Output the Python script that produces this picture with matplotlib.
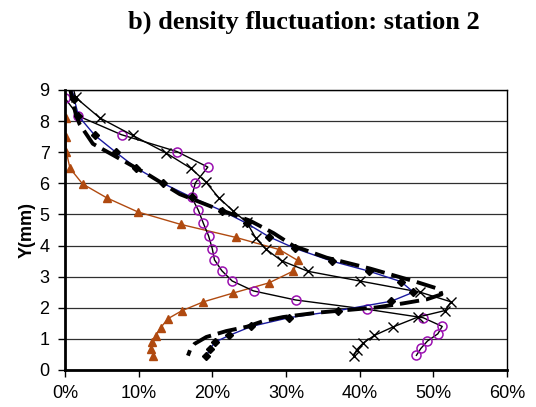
import matplotlib.pyplot as plt
import numpy as np

# density fluctuation (%) vs Y (mm)
tri_y = [8.1, 7.5, 7.0, 6.48, 5.98, 5.53, 5.08, 4.68, 4.26, 3.87, 3.52, 3.18, 2.8,
         2.47, 2.19, 1.9, 1.65, 1.36, 1.1, 0.9, 0.68, 0.44]
tri_x = [0.1, 0.1, 0.2, 0.7, 2.4, 5.7, 9.9, 15.7, 23.2, 29.1, 31.6, 31.0, 27.7,
         22.8, 18.8, 15.85, 14.0, 13.0, 12.3, 11.8, 11.7, 12.0]

circ_y = [8.74, 8.16, 7.56, 7.02, 6.52, 6.01, 5.55, 5.14, 4.71, 4.31, 3.90, 3.54,
          3.19, 2.86, 2.54, 2.25, 1.95, 1.68, 1.40, 1.16, 0.93, 0.69, 0.47]
circ_x = [0.0, 1.85, 7.7, 15.2, 19.4, 17.7, 17.2, 18.1, 18.8, 19.5, 20.0, 20.3,
          21.3, 22.7, 25.6, 31.3, 41.0, 48.6, 51.2, 50.6, 49.2, 48.3, 47.7]

cross_y = [9.3, 8.76, 8.1, 7.54, 6.98, 6.48, 6.05, 5.53, 5.12, 4.74, 4.24, 3.88,
           3.51, 3.17, 2.86, 2.50, 2.19, 1.91, 1.70, 1.38, 1.11, 0.87, 0.65, 0.46]
cross_x = [0.9, 1.45, 4.75, 9.2, 13.7, 17.1, 19.1, 20.9, 22.8, 24.7, 25.9, 27.3,
           29.4, 33.0, 40.0, 48.2, 52.4, 51.6, 47.9, 44.5, 42.0, 40.5, 39.6, 39.2]

dia_y = [9.3, 8.72, 8.16, 7.54, 7.0, 6.49, 6.0, 5.55, 5.12, 4.71, 4.28, 3.91, 3.50,
         3.18, 2.84, 2.50, 2.21, 1.91, 1.68, 1.40, 1.11, 0.90, 0.68, 0.44]
dia_x = [0.6, 1.26, 1.85, 4.07, 6.9, 9.7, 13.3, 17.2, 21.3, 24.7, 27.7, 31.2, 36.2,
         41.2, 45.6, 47.3, 44.3, 37.1, 30.4, 25.3, 22.3, 20.4, 19.7, 19.2]

dash_y = [9.3, 8.7, 8.2, 7.9, 7.27, 6.78, 6.25, 5.65, 5.23, 4.8, 4.4, 3.99, 3.61,
          3.26, 2.83, 2.59, 2.43, 2.27, 2.14, 2.01, 1.84, 1.70, 1.57, 1.39, 1.25,
          1.06, 0.84, 0.65, 0.46]
dash_x = [0.5, 1.0, 1.5, 2.0, 3.8, 7.5, 11.5, 15.6, 20.1, 25.1, 28.3, 31.0, 35.5,
          41.4, 47.7, 50.9, 51.1, 49.1, 45.9, 42.3, 34.2, 29.6, 26.9, 24.7, 21.9,
          19.2, 17.6, 17.0, 16.7]

xticks = [0, 10, 20, 30, 40, 50, 60]
yticks = list(range(10))

fig = plt.figure(figsize=(5.36, 4.07), dpi=100)
ax = fig.add_axes([0.121, 0.091, 0.825, 0.688])

ax.plot(tri_x, tri_y, color='#B04A10', lw=1.0, marker='^', ms=5.5,
        mfc='#B04A10', mec='#B04A10')
ax.plot(circ_x, circ_y, color='black', lw=1.0, marker='o', ms=6.5,
        mfc='none', mec='#9A10B0', mew=1.1)
ax.plot(cross_x, cross_y, color='black', lw=1.0, marker='x', ms=7.5, mew=1.0)
ax.plot(dia_x, dia_y, color='#1A1AA0', lw=1.0, marker='D', ms=4.5,
        mfc='black', mec='black')
ax.plot(dash_x, dash_y, color='black', lw=2.8, dashes=(5, 1.8))

ax.set_xlim(0, 60)
ax.set_ylim(0, 9)
ax.set_xticks(xticks)
ax.set_xticklabels([f'{v}%' for v in xticks])
ax.set_yticks(yticks)
ax.yaxis.grid(True, color='#303030', lw=0.9)
ax.set_axisbelow(True)

for s in ['left', 'bottom']:
    ax.spines[s].set_linewidth(2.0)
for s in ['right', 'top']:
    ax.spines[s].set_linewidth(1.0)

ax.tick_params(labelsize=13, length=5, width=1.0, direction='out', pad=6)
for lab in ax.get_xticklabels() + ax.get_yticklabels():
    lab.set_family('Liberation Sans')

ax.set_ylabel('Y(mm)', fontsize=13, fontweight='bold', family='Liberation Sans', labelpad=3)

fig.text(0.567, 0.945, 'b) density fluctuation: station 2', ha='center', va='center',
         fontsize=19, fontweight='bold', family='Liberation Serif')

fig.savefig('out.png', dpi=100)
